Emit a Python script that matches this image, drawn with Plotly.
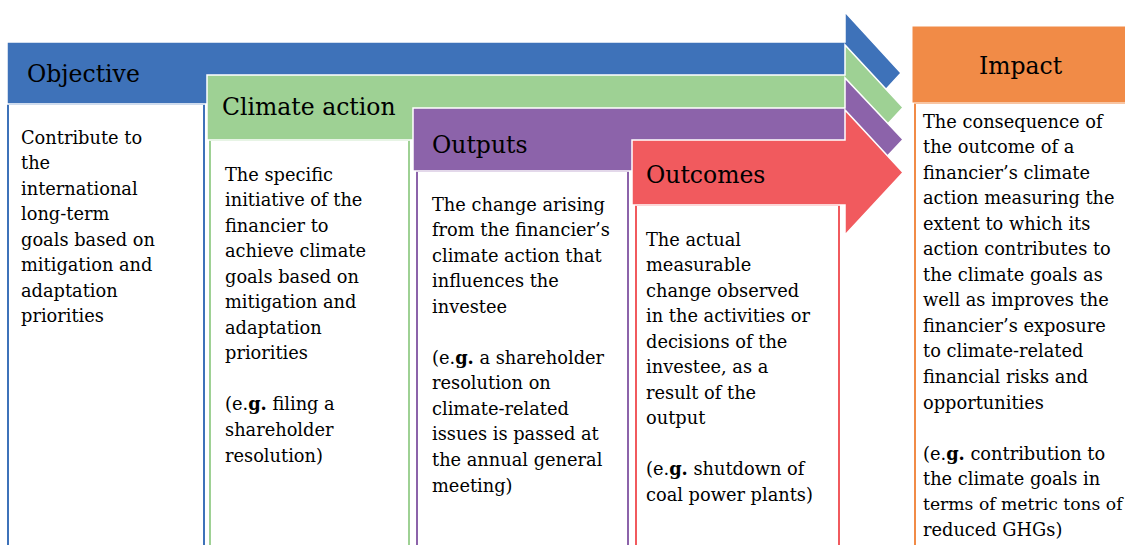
import plotly.graph_objects as go

# ---- content ----
titles = ["Objective", "Climate action", "Outputs", "Outcomes", "Impact"]
colors = ["#3E72B9", "#9ED194", "#8C63AA", "#F15A5E", "#F18B47"]

objective_lines = ["Contribute to", "the", "international", "long-term", "goals based on",
                   "mitigation and", "adaptation", "priorities"]
climate_lines = ["The specific", "initiative of the", "financier to", "achieve climate",
                 "goals based on", "mitigation and", "adaptation", "priorities", "",
                 "(e.<b>g.</b> filing a", "shareholder", "resolution)"]
outputs_lines = ["The change arising", "from the financier’s", "climate action that",
                 "influences the", "investee", "", "(e.<b>g.</b> a shareholder", "resolution on",
                 "climate-related", "issues is passed at", "the annual general", "meeting)"]
outcomes_lines = ["The actual", "measurable", "change observed", "in the activities or",
                  "decisions of the", "investee, as a", "result of the", "output", "",
                  "(e.<b>g.</b> shutdown of", "coal power plants)"]
impact_lines = ["The consequence of", "the outcome of a", "financier’s climate",
                "action measuring the", "extent to which its", "action contributes to",
                "the climate goals as", "well as improves the", "financier’s exposure",
                "to climate-related", "financial risks and", "opportunities", "",
                "(e.<b>g.</b> contribution to", "the climate goals in",
                "terms of metric tons of", "reduced GHGs)"]
body_texts = [objective_lines, climate_lines, outputs_lines, outcomes_lines, impact_lines]

# ---- geometry (pixel layout) ----
W, H = 1125, 545
FONT = "DejaVu Serif"
LINE = 25.55
BODY_SIZE = 17.8
# arrows: (x_left, y_top, y_bottom, head_top, tip_x)
arrows = [(7, 42, 104, 12, 901), (207, 75, 140, 45, 903),
          (413, 108, 171, 78, 903), (632, 140, 205, 110, 903)]
BODY_END = 845
# columns: (x_left_border, x_right_border, y_top)
columns = [(8, 204, 104), (210, 409, 140), (417, 628, 171), (636, 839, 205)]
title_pos = [(25, 74), (220, 107), (430, 145), (644, 175)]
body_pos = [(19, 137), (223, 174), (430, 204), (644, 239), (921, 121)]

shapes = []
annotations = []

for i in range(4):
    xl, yt, yb, ht, tip = arrows[i]
    cx0, cx1, cy = columns[i]
    col = colors[i]
    shapes.append(dict(type="rect", x0=cx0, x1=cx1, y0=cy, y1=H + 20,
                       line=dict(color=col, width=2), fillcolor="white"))
    ymid = (yt + yb) / 2
    hb = 2 * ymid - ht
    path = (f"M{xl},{yt} L{BODY_END},{yt} L{BODY_END},{ht} L{tip},{ymid} "
            f"L{BODY_END},{hb} L{BODY_END},{yb} L{xl},{yb} Z")
    shapes.append(dict(type="path", path=path, fillcolor=col,
                       line=dict(color="white", width=1.5)))

# Impact box
shapes.append(dict(type="rect", x0=915, x1=W + 20, y0=103, y1=H + 20,
                   line=dict(color=colors[4], width=2), fillcolor="white"))
shapes.append(dict(type="rect", x0=912, x1=W + 20, y0=26, y1=103,
                   line=dict(color="white", width=1), fillcolor=colors[4]))

for i in range(4):
    x, y = title_pos[i]
    annotations.append(dict(x=x, y=y, text=titles[i], showarrow=False,
                            xanchor="left", yanchor="middle",
                            font=dict(family=FONT, size=23.5, color="black")))
annotations.append(dict(x=1021, y=66, text=titles[4], showarrow=False,
                        xanchor="center", yanchor="middle",
                        font=dict(family=FONT, size=23.5, color="black")))

for lines, (x, y0) in zip(body_texts, body_pos):
    for k, t in enumerate(lines):
        if not t:
            continue
        size = BODY_SIZE
        if t == "terms of metric tons of":
            size = 17.2  # keep the longest Impact line inside the page
        annotations.append(dict(x=x, y=y0 + k * LINE, text=t, showarrow=False,
                                xanchor="left", yanchor="middle",
                                font=dict(family=FONT, size=size, color="black")))

fig = go.Figure()
fig.update_layout(
    width=W, height=H, margin=dict(l=0, r=0, t=0, b=0),
    paper_bgcolor="white", plot_bgcolor="white",
    xaxis=dict(range=[0, W], visible=False, fixedrange=True),
    yaxis=dict(range=[H, 0], visible=False, fixedrange=True),
    shapes=shapes, annotations=annotations, showlegend=False,
)
fig.write_html("out.html", config={"displayModeBar": False},
               post_script="document.body.style.margin='0';document.body.style.overflow='hidden';")
